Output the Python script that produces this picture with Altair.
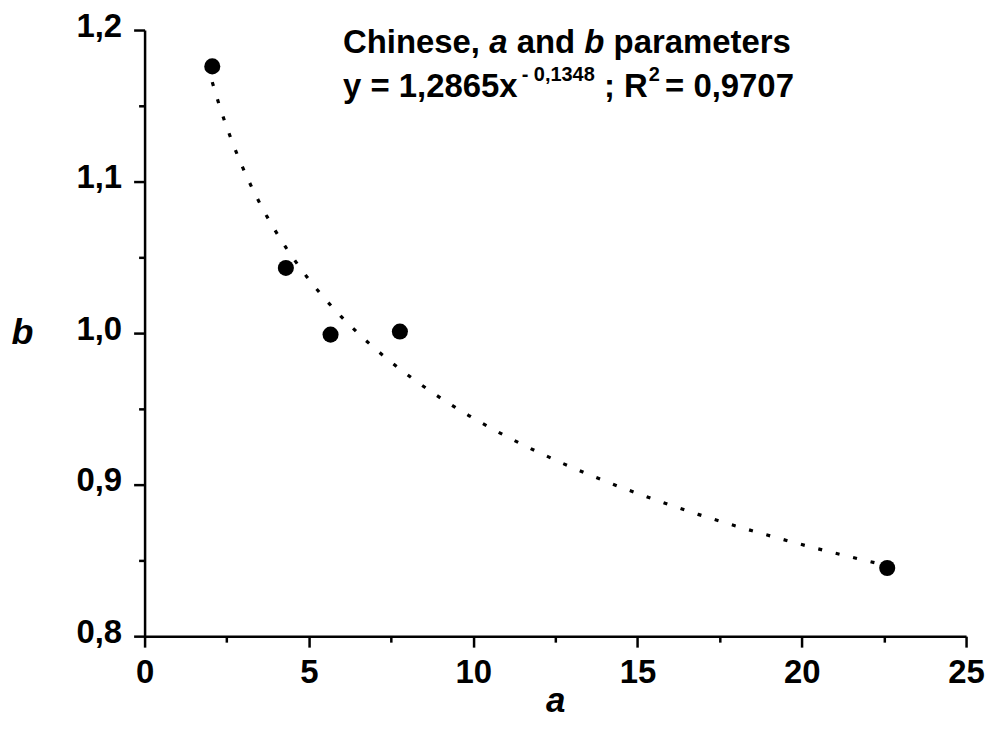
import altair as alt
import pandas as pd

# data
a_vals = [2.06, 4.30, 5.66, 7.77, 22.6]
b_vals = [1.176, 1.043, 0.999, 1.001, 0.845]

x_major = [0, 5, 10, 15, 20, 25]
x_minor = [2.5, 7.5, 12.5, 17.5, 22.5]
y_major = [0.8, 0.9, 1.0, 1.1, 1.2]
y_minor = [0.85, 0.95, 1.05, 1.15]

line1 = [("Chinese,", False), ("a", True), ("and", False), ("b", True), ("parameters", False)]
eq_main = "y = 1,2865x"
eq_exp = "- 0,1348"
eq_mid = "; R"
eq_sq = "2"
eq_end = "= 0,9707"

df = pd.DataFrame({"a": a_vals, "b": b_vals})

FONT = "Liberation Sans"
W, H = 824, 608
F = 33       # main text size
FS = 20      # superscript size
FT = 33      # tick label size

# approximate Arial-bold advance widths (em) for text placement
ADV = {"C": .722, "h": .611, "i": .278, "n": .611, "e": .556, "s": .556, ",": .278,
       "a": .556, "d": .611, "b": .611, "p": .611, "r": .389, "m": .889, "t": .333,
       " ": .278, "y": .556, "=": .584, "x": .556, "-": .333, ";": .333, "R": .722}


def width(txt, size):
    return sum(ADV.get(c, .556) for c in txt) * size


one = alt.Data(values=[{}])


def txt(t, x, y, size=F, italic=False):
    return alt.Chart(one).mark_text(
        text=t, font=FONT, fontSize=size, fontWeight="bold",
        fontStyle="italic" if italic else "normal",
        align="left", baseline="alphabetic", color="black",
    ).encode(x=alt.value(x), y=alt.value(y))


# title placement (pixel coords relative to the plot area)
X0 = 344 - 145
Y1 = 52 - 29
Y2 = 96 - 29
texts = []
cx = X0
for word, it in line1:
    texts.append(txt(word, cx, Y1, italic=it))
    cx += width(word, F) + width(" ", F)

cx = X0
texts.append(txt(eq_main, cx, Y2))
cx += width(eq_main, F) + 4
texts.append(txt(eq_exp, cx, Y2 - 16, FS))
cx += width(eq_exp, FS) + width(" ", F)
texts.append(txt(eq_mid, cx, Y2))
cx += width(eq_mid, F) + 1
texts.append(txt(eq_sq, cx, Y2 - 16, FS))
cx += width(eq_sq, FS) + width(" ", F) - 4
texts.append(txt(eq_end, cx, Y2))

x_axis = alt.Axis(
    values=sorted(x_major + x_minor),
    labelExpr="datum.value % 5 === 0 ? datum.label : ''",
    tickSize={"condition": {"test": "datum.value % 5 === 0", "value": 11}, "value": 6},
    labelOverlap=False, labelFlush=False, grid=False,
    domainColor="black", domainWidth=2.5, tickColor="black", tickWidth=2.5,
    labelFont=FONT, labelFontSize=FT, labelFontWeight="bold", labelColor="black",
    labelPadding=9,
    title="a", titleFont=FONT, titleFontSize=35, titleFontWeight="bold",
    titleFontStyle="italic", titleColor="black", titleBaseline="alphabetic",
    titleAnchor="start", titleX=412, titleY=76, titleAlign="center",
)
y_axis = alt.Axis(
    values=sorted(y_major + y_minor),
    labelExpr="round(datum.value * 20) % 2 === 0 ? replace(format(datum.value, '.1f'), '.', ',') : ''",
    tickSize={"condition": {"test": "round(datum.value * 20) % 2 === 0", "value": 11}, "value": 6},
    labelOverlap=False, labelFlush=False, grid=False,
    domainColor="black", domainWidth=2.5, tickColor="black", tickWidth=2.5,
    labelFont=FONT, labelFontSize=FT, labelFontWeight="bold", labelColor="black",
    labelPadding=12, labelOffset=-4,
    title="b", titleFont=FONT, titleFontSize=36, titleFontWeight="bold",
    titleFontStyle="italic", titleColor="black", titleAngle=0,
    titleX=-123, titleY=314, titleBaseline="alphabetic", titleAlign="center",
)

xs = alt.Scale(domain=[0, 25], nice=False, zero=False)
ys = alt.Scale(domain=[0.8, 1.2], nice=False, zero=False)

base = alt.Chart(df)

fit = base.transform_regression("a", "b", method="pow").mark_line(
    color="black", strokeWidth=3.2, strokeDash=[4, 14], strokeCap="butt"
).encode(x=alt.X("a:Q", scale=xs, axis=x_axis), y=alt.Y("b:Q", scale=ys, axis=y_axis))

pts = base.mark_circle(size=260, color="black", opacity=1).encode(
    x=alt.X("a:Q", scale=xs), y=alt.Y("b:Q", scale=ys)
)

chart = alt.layer(fit, pts, *texts).properties(
    width=W, height=H,
    autosize=alt.AutoSizeParams(type="none"),
    padding={"left": 137, "top": 21, "right": 20, "bottom": 84},
).configure(background="white").configure_view(stroke="transparent", strokeWidth=0)

chart.save("out.html", embed_options={"renderer": "svg", "actions": False})
